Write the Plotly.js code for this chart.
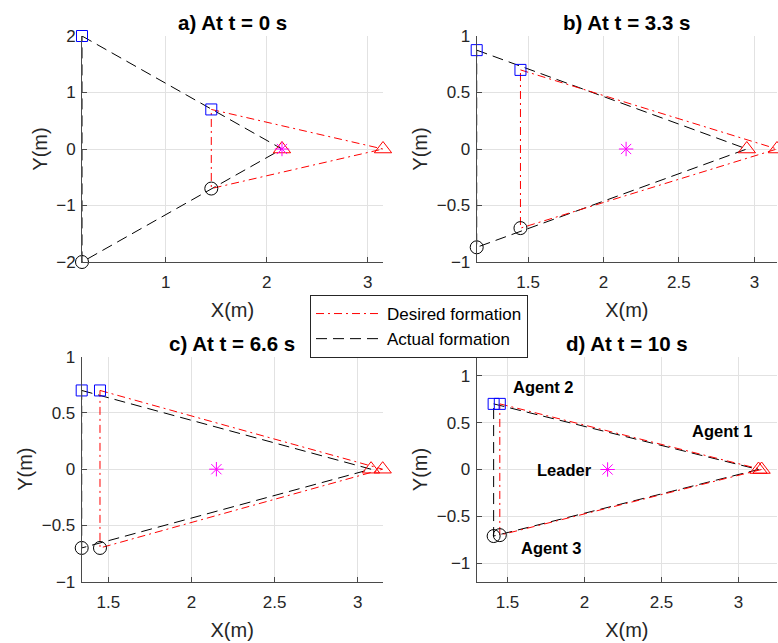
<!DOCTYPE html>
<html><head><meta charset="utf-8">
<script src="https://cdn.plot.ly/plotly-3.0.1.min.js"></script>
<style>html,body{margin:0;padding:0;background:#fff}#chart{width:778px;height:643px}</style>
</head><body><div id="chart"></div>
<script>
// ---- data ----
const panelTitles = ['a) At t = 0 s', 'b) At t = 3.3 s', 'c) At t = 6.6 s', 'd) At t = 10 s'];
const leaderX   = [2.15, 2.15, 2.15, 2.15];
const leaderY   = [0, 0, 0, 0];
const desired1X = [3.15, 3.15, 3.15, 3.15];
const desired1Y = [0, 0, 0, 0];
const desired2X = [1.45, 1.45, 1.45, 1.45];
const desired2Y = [0.7, 0.7, 0.7, 0.7];
const desired3X = [1.45, 1.45, 1.45, 1.45];
const desired3Y = [-0.7, -0.7, -0.7, -0.7];
const actual1X  = [2.15, 2.95, 3.08, 3.13];
const actual1Y  = [0, 0, 0, 0];
const actual2X  = [0.17, 1.16, 1.34, 1.41];
const actual2Y  = [2, 0.875, 0.7, 0.7];
const actual3X  = [0.17, 1.16, 1.34, 1.41];
const actual3Y  = [-2, -0.87, -0.7, -0.71];
const xTickVals = [[1, 2, 3], [1.5, 2, 2.5, 3], [1.5, 2, 2.5, 3], [1.5, 2, 2.5, 3]];
const yTickVals = [[-2, -1, 0, 1, 2], [-1, -0.5, 0, 0.5, 1], [-1, -0.5, 0, 0.5, 1], [-1, -0.5, 0, 0.5, 1]];
const seriesNames = ['Desired formation', 'Actual formation'];
const agentLabels = ['Agent 1', 'Agent 2', 'Agent 3', 'Leader'];

// ---- layout helpers ----
const W = 778, H = 643;
const FONT = '"Liberation Sans", Arial, Helvetica, sans-serif';
const TXT = '#262626';
// plot-area boxes in pixels [left, right, top, bottom]
const boxes = [[82, 383, 36, 262], [476.7, 777, 36, 262], [81.7, 382.7, 356.7, 581.7], [476.7, 777, 357, 582]];
const yRanges = [[-2, 2], [-1, 1], [-1, 1], [-1.2, 1.2]];
const xRangeD = [1.3, 3.25];

const traces = [];
const layout = {
  width: W, height: H,
  margin: {l: 0, r: 0, t: 0, b: 0},
  paper_bgcolor: '#fff', plot_bgcolor: '#fff',
  font: {family: FONT, color: TXT},
  showlegend: true,
  legend: {
    x: 310 / W, y: 1 - 295 / H, xanchor: 'left', yanchor: 'top',
    bgcolor: '#fff', bordercolor: '#262626', borderwidth: 1,
    font: {family: FONT, size: 17, color: '#000'},
    itemwidth: 66, tracegroupgap: 0
  },
  annotations: [],
  hovermode: false
};

for (let i = 0; i < 4; i++) {
  const n = i === 0 ? '' : String(i + 1);
  const xa = 'x' + n, ya = 'y' + n;
  const [l, r, t, b] = boxes[i];
  const xmin = Math.min(actual2X[i], actual3X[i], desired2X[i]);
  const xmax = Math.max(desired1X[i], actual1X[i]);
  const xr = i === 3 ? xRangeD : [xmin, xmax];
  const common = {
    showgrid: true, gridcolor: '#e2e2e2', gridwidth: 1, zeroline: false,
    showline: true, linecolor: '#4a4a4a', linewidth: 1,
    ticks: 'inside', ticklen: 5, tickcolor: '#4a4a4a', tickwidth: 1,
    tickfont: {family: FONT, size: 17, color: TXT}, fixedrange: true
  };
  layout['xaxis' + n] = Object.assign({}, common, {
    domain: [l / W, r / W], anchor: ya, range: xr, tickvals: xTickVals[i],
    ticklabelstandoff: 5,
    title: {text: 'X(m)', font: {family: FONT, size: 20, color: TXT}, standoff: 11}
  });
  layout['yaxis' + n] = Object.assign({}, common, {
    domain: [1 - b / H, 1 - t / H], anchor: xa, range: yRanges[i], tickvals: yTickVals[i],
    ticklabelstandoff: 2,
    title: {text: 'Y(m)', font: {family: FONT, size: 20, color: TXT}, standoff: 3}
  });
  layout.annotations.push({
    text: '<b>' + panelTitles[i] + '</b>', xref: xa + ' domain', yref: ya + ' domain',
    x: 0.5, y: 1, xanchor: 'center', yanchor: 'bottom', yshift: 0, showarrow: false,
    font: {family: FONT, size: 20.5, color: '#000'}
  });

  // formation lines
  traces.push({
    type: 'scatter', mode: 'lines', xaxis: xa, yaxis: ya,
    x: [actual2X[i], actual1X[i], actual3X[i], actual2X[i]],
    y: [actual2Y[i], actual1Y[i], actual3Y[i], actual2Y[i]],
    line: {color: '#000', width: 1, dash: '11px,6px'},
    name: seriesNames[1], legendgroup: 'act', showlegend: i === 0, legendrank: 2
  });
  traces.push({
    type: 'scatter', mode: 'lines', xaxis: xa, yaxis: ya,
    x: [desired2X[i], desired1X[i], desired3X[i], desired2X[i]],
    y: [desired2Y[i], desired1Y[i], desired3Y[i], desired2Y[i]],
    line: {color: '#ff0000', width: 1, dash: '8px,4px,2px,4px'},
    name: seriesNames[0], legendgroup: 'des', showlegend: i === 0, legendrank: 1
  });
  // agent markers
  const mk = (x, y, sym, col, size, name) => traces.push({
    type: 'scatter', mode: 'markers', xaxis: xa, yaxis: ya, x: x, y: y, name: name,
    showlegend: false, cliponaxis: false,
    marker: {symbol: sym, size: size, color: col, line: {color: col, width: 1}}
  });
  mk([actual1X[i], desired1X[i]], [actual1Y[i], desired1Y[i]], 'triangle-up-open', '#ff0000', 15, agentLabels[0]);
  mk([actual2X[i], desired2X[i]], [actual2Y[i], desired2Y[i]], 'square-open', '#0000ff', 11, agentLabels[1]);
  mk([actual3X[i], desired3X[i]], [actual3Y[i], desired3Y[i]], 'circle-open', '#000000', 13, agentLabels[2]);
  mk([leaderX[i]], [leaderY[i]], 'asterisk-open', '#ff00ff', 12, agentLabels[3]);
}

// labels in panel d
const labelPos = [[2.896, 0.41, 'center'], [1.734, 0.88, 'center'], [1.786, -0.84, 'center'], [2.063, 0, 'right']];
labelPos.forEach((p, k) => layout.annotations.push({
  text: '<b>' + agentLabels[k] + '</b>', xref: 'x4', yref: 'y4', x: p[0], y: p[1],
  xanchor: p[2], yanchor: 'middle', showarrow: false,
  font: {family: FONT, size: 16.5, color: '#000'}
}));

Plotly.newPlot('chart', traces, layout, {staticPlot: true, displayModeBar: false});
</script>
</body></html>
